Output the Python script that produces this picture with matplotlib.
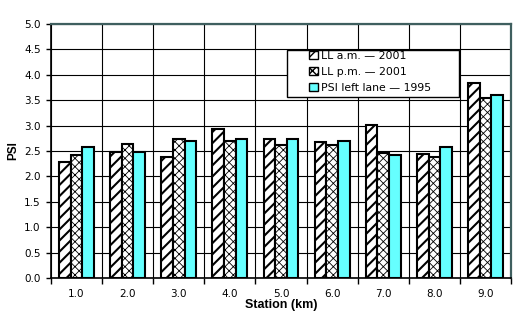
import matplotlib
matplotlib.use("Agg")
import matplotlib.pyplot as plt
import numpy as np
from matplotlib.patches import Rectangle

stations = ["1.0", "2.0", "3.0", "4.0", "5.0", "6.0", "7.0", "8.0", "9.0"]
ll_am_2001 = [2.29, 2.49, 2.38, 2.93, 2.73, 2.67, 3.01, 2.44, 3.84]
ll_pm_2001 = [2.42, 2.63, 2.73, 2.70, 2.62, 2.62, 2.47, 2.38, 3.54]
psi_left_1995 = [2.57, 2.48, 2.69, 2.73, 2.73, 2.70, 2.42, 2.58, 3.61]
series_labels = ["LL a.m. \u2014 2001", "LL p.m. \u2014 2001", "PSI left lane \u2014 1995"]
y_ticks = [0.0, 0.5, 1.0, 1.5, 2.0, 2.5, 3.0, 3.5, 4.0, 4.5, 5.0]

W, H = 523, 329
fig = plt.figure(figsize=(W / 100, H / 100), dpi=100)
fig.patch.set_facecolor("white")
L, R, T, B = 51, 511, 24, 278
ax = fig.add_axes([L / W, 1 - B / H, (R - L) / W, (B - T) / H])

x = np.arange(len(stations))
bw = 0.228
styles = [
    dict(facecolor="white", hatch="///", hlw=1.5),
    dict(facecolor="white", hatch="xxxx", hlw=0.6),
    dict(facecolor="#66FFFF", hatch=None, hlw=0.6),
]
handles = []
for i, (vals, st) in enumerate(zip([ll_am_2001, ll_pm_2001, psi_left_1995], styles)):
    with plt.rc_context({"hatch.linewidth": st["hlw"]}):
        bars = ax.bar(x + (i - 1) * bw, vals, width=bw, facecolor=st["facecolor"],
                      edgecolor="black", linewidth=1.5, hatch=st["hatch"], zorder=3)
        h = Rectangle((0, 0), 1, 1, facecolor=st["facecolor"], edgecolor="black",
                      linewidth=1.0, hatch=st["hatch"])
    for b in list(bars) + [h]:
        if hasattr(b, "set_hatch_linewidth"):
            b.set_hatch_linewidth(st["hlw"])
    handles.append(h)

ax.set_xlim(-0.5, len(stations) - 0.5)
ax.set_ylim(0, 5)
ax.set_axisbelow(True)

tick_font = dict(family="DejaVu Sans", size=7.5)
ax.set_yticks(y_ticks)
ax.set_yticklabels([f"{v:.1f}" for v in y_ticks], **tick_font)
ax.tick_params(axis="y", which="major", direction="out", length=3.5, width=1, pad=4)

ax.set_xticks(np.arange(-0.5, len(stations), 1.0))
ax.set_xticklabels([])
ax.tick_params(axis="x", which="major", direction="out", length=4, width=1)
ax.set_xticks(x, minor=True)
ax.set_xticklabels(stations, minor=True, **tick_font)
ax.tick_params(axis="x", which="minor", length=0, pad=8)

ax.grid(True, which="major", axis="both", color="black", linewidth=0.8)

for s in ["left", "bottom"]:
    ax.spines[s].set_color("black")
    ax.spines[s].set_linewidth(1.2)
for s in ["top", "right"]:
    ax.spines[s].set_color("#3F5F5F")
    ax.spines[s].set_linewidth(1.6)

fig.text(13.5 / W, 1 - 151 / H, "PSI", rotation=90, ha="center", va="center",
         family="Liberation Sans", weight="bold", size=8.5)
fig.text(281 / W, 1 - 305 / H, "Station (km)", ha="center", va="center",
         family="Liberation Sans", weight="bold", size=9)

# legend frame
frame = Rectangle((287 / W, 1 - 97 / H), (459 - 287) / W, (97 - 50) / H,
                  transform=fig.transFigure, facecolor="white", edgecolor="black",
                  linewidth=1.0, zorder=5)
fig.add_artist(frame)
leg = fig.legend(handles, series_labels, loc="upper left",
                 bbox_to_anchor=(309 / W, 1 - 51 / H), frameon=False,
                 borderpad=0, borderaxespad=0, handlelength=0.85, handleheight=0.7,
                 handletextpad=0.3, labelspacing=0.55,
                 prop=dict(family="DejaVu Sans", size=7.8))
leg.set_zorder(6)

fig.savefig("out.png", dpi=100, facecolor="white")
